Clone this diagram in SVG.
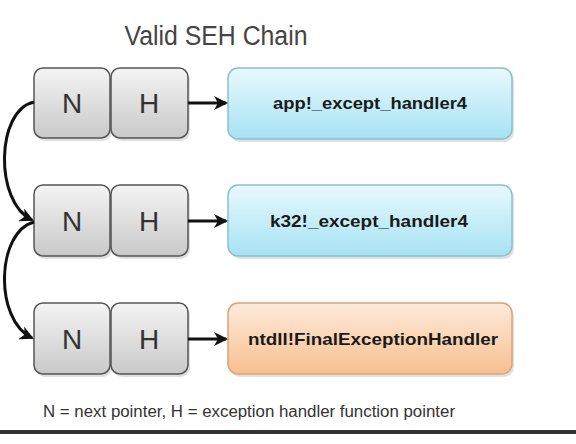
<svg xmlns="http://www.w3.org/2000/svg" width="576" height="444" viewBox="0 0 576 444">
<defs>
<linearGradient id="gGray" x1="0" y1="0" x2="0" y2="1">
<stop offset="0" stop-color="#f4f4f4"/><stop offset="1" stop-color="#c9c9c9"/>
</linearGradient>
<linearGradient id="gBlue" x1="0" y1="0" x2="0" y2="1">
<stop offset="0" stop-color="#e8f9fd"/><stop offset="1" stop-color="#a6e2f3"/>
</linearGradient>
<linearGradient id="gOrange" x1="0" y1="0" x2="0" y2="1">
<stop offset="0" stop-color="#fdeadb"/><stop offset="1" stop-color="#f8bf8f"/>
</linearGradient>
<marker id="ah" viewBox="0 0 14 14" refX="12" refY="7" markerWidth="14" markerHeight="14" markerUnits="userSpaceOnUse" orient="auto">
<path d="M0,0 L14,7 L0,14 L4,7 z" fill="#111"/>
</marker>
</defs>
<style>
.cell{fill:url(#gGray);stroke:#555;stroke-width:1.5}
.blue{fill:url(#gBlue);stroke:#8cbfcd;stroke-width:1.5}
.orange{fill:url(#gOrange);stroke:#d4a57f;stroke-width:1.5}
.shadow{fill:#000;opacity:0.12}
.letter{font-family:"Liberation Sans",Arial,sans-serif;font-size:28px;fill:#333;text-anchor:middle}
.hname{font-family:"Liberation Sans",Arial,sans-serif;font-size:17px;font-weight:bold;fill:#1a1a1a;text-anchor:middle}
.conn{fill:none;stroke:#111;stroke-width:3;marker-end:url(#ah)}
</style>
<rect width="576" height="444" fill="#ffffff"/>
<text x="216" y="45" font-family="Liberation Sans,Arial,sans-serif" font-size="27" fill="#444" text-anchor="middle" textLength="183" lengthAdjust="spacingAndGlyphs">Valid SEH Chain</text>

<g id="row1-N"><rect class="shadow" x="36" y="71" width="76" height="70" rx="9"/><rect class="cell" x="34" y="68" width="76" height="70" rx="9"/><text class="letter" x="72" y="113">N</text></g>
<g id="row1-H"><rect class="shadow" x="113" y="71" width="77" height="70" rx="9"/><rect class="cell" x="111" y="68" width="77" height="70" rx="9"/><text class="letter" x="149" y="113">H</text></g>
<g id="handler1"><rect class="shadow" x="230" y="71" width="284" height="71" rx="10"/><rect class="blue" x="228" y="68" width="284" height="71" rx="10"/><text class="hname" x="370" y="109" textLength="194" lengthAdjust="spacingAndGlyphs">app!_except_handler4</text></g>

<g id="row2-N"><rect class="shadow" x="36" y="188" width="76" height="71" rx="9"/><rect class="cell" x="34" y="185" width="76" height="71" rx="9"/><text class="letter" x="72" y="231">N</text></g>
<g id="row2-H"><rect class="shadow" x="113" y="188" width="77" height="71" rx="9"/><rect class="cell" x="111" y="185" width="77" height="71" rx="9"/><text class="letter" x="149" y="231">H</text></g>
<g id="handler2"><rect class="shadow" x="230" y="188" width="284" height="71" rx="10"/><rect class="blue" x="228" y="185" width="284" height="71" rx="10"/><text class="hname" x="369" y="227" textLength="198" lengthAdjust="spacingAndGlyphs">k32!_except_handler4</text></g>

<g id="row3-N"><rect class="shadow" x="36" y="306" width="76" height="71" rx="9"/><rect class="cell" x="34" y="303" width="76" height="71" rx="9"/><text class="letter" x="72" y="349">N</text></g>
<g id="row3-H"><rect class="shadow" x="113" y="306" width="77" height="71" rx="9"/><rect class="cell" x="111" y="303" width="77" height="71" rx="9"/><text class="letter" x="149" y="349">H</text></g>
<g id="handler3"><rect class="shadow" x="230" y="306" width="284" height="71" rx="10"/><rect class="orange" x="228" y="303" width="284" height="71" rx="10"/><text class="hname" x="373" y="345" textLength="250" lengthAdjust="spacingAndGlyphs">ntdll!FinalExceptionHandler</text></g>

<g id="connectors">
<path class="conn" d="M188,103 L226,103"/>
<path class="conn" d="M188,221 L226,221"/>
<path class="conn" d="M188,339 L226,339"/>
<path class="conn" d="M34,102 C-4,110 -6,202 32,220"/>
<path class="conn" d="M34,222 C-4,232 -6,320 32,338"/>
</g>

<text x="249" y="417" font-family="Liberation Sans,Arial,sans-serif" font-size="16" fill="#333" text-anchor="middle" textLength="412" lengthAdjust="spacingAndGlyphs">N = next pointer, H = exception handler function pointer</text>
<rect x="0" y="430" width="576" height="4" fill="#333"/>
</svg>
